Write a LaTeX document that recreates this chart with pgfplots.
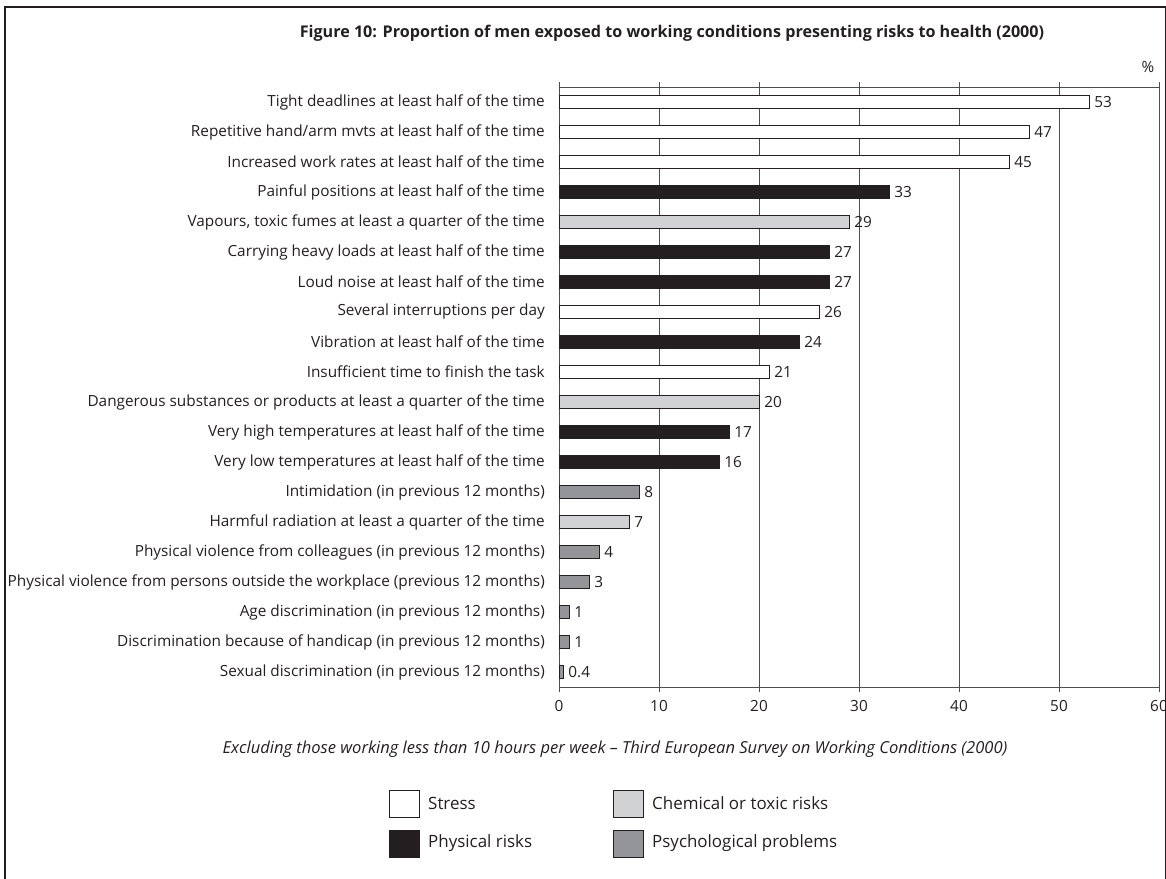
\documentclass[border=0pt]{standalone}
\usepackage{pgfplots}
\pgfplotsset{compat=1.18}
\usepackage{fontspec}
\setmainfont{Open Sans}

\definecolor{inkdark}{HTML}{231F20}
\definecolor{chemgrey}{HTML}{D1D2D4}
\definecolor{psygrey}{HTML}{939598}
\definecolor{gridgrey}{HTML}{4D4D4F}

\newcommand{\lblfont}{\fontsize{15.4}{18}\selectfont}
\newcommand{\keyfont}{\fontsize{17}{20}\selectfont}

\begin{document}
\begin{tikzpicture}
% outer frame of the figure
\draw[line width=1.6bp, inkdark] (5bp,-895bp) -- (5bp,-7bp) -- (1165.5bp,-7bp) -- (1165.5bp,-895bp);

% title and unit
\node[font=\fontsize{16.2}{19}\selectfont\bfseries, text=inkdark] at (672bp,-33bp)
  {Figure 10: Proportion of men exposed to working conditions presenting risks to health (2000)};
\node[font=\lblfont, text=inkdark] at (1148bp,-67bp) {\%};

\begin{axis}[
  at={(559bp,-687bp)}, anchor=south west,
  scale only axis, width=600bp, height=600bp,
  xbar, bar width=13bp, bar shift=0pt,
  every axis plot/.append style={bar shift=0pt, draw=inkdark, line width=0.8bp},
  xmin=0, xmax=60, ymin=0.5, ymax=20.5, y dir=reverse,
  xtick={0,10,...,60},
  xmajorgrids, major grid style={gridgrey, line width=0.9bp},
  axis line style={gridgrey, line width=1bp},
  tick style={gridgrey, line width=0.9bp},
  xtick align=outside, major tick length=5bp,
  x tick label style={font=\lblfont, text=inkdark, /pgf/number format/assume math mode=true, yshift=-5bp},
  ytick={1,...,20},
  y tick style={draw=none},
  extra y ticks={1.5,2.5,...,20.5},
  extra y tick labels={},
  extra y tick style={ytick align=outside, major tick length=4bp, tick style={gridgrey, line width=0.9bp}, grid=none},
  yticklabels={
    Tight deadlines at least half of the time,
    Repetitive hand/arm mvts at least half of the time,
    Increased work rates at least half of the time,
    Painful positions at least half of the time,
    {Vapours, toxic fumes at least a quarter of the time},
    Carrying heavy loads at least half of the time,
    Loud noise at least half of the time,
    Several interruptions per day,
    Vibration at least half of the time,
    Insufficient time to finish the task,
    Dangerous substances or products at least a quarter of the time,
    Very high temperatures at least half of the time,
    Very low temperatures at least half of the time,
    Intimidation (in previous 12 months),
    Harmful radiation at least a quarter of the time,
    Physical violence from colleagues (in previous 12 months),
    Physical violence from persons outside the workplace (previous 12 months),
    Age discrimination (in previous 12 months),
    Discrimination because of handicap (in previous 12 months),
    Sexual discrimination (in previous 12 months)
  },
  y tick label style={font=\lblfont, text=inkdark, inner sep=0pt, xshift=-9bp},
  nodes near coords,
  nodes near coords align={horizontal},
  point meta=explicit symbolic,
  every node near coord/.append style={font=\lblfont, text=inkdark, inner sep=0pt, anchor=west, xshift=5bp},
  clip=false,
]
% Stress
\addplot[fill=white] coordinates {
  (53,1) [53] (47,2) [47] (45,3) [45] (26,8) [26] (21,10) [21]
};
% Chemical or toxic risks
\addplot[fill=chemgrey] coordinates {
  (29,5) [29] (20,11) [20] (7,15) [7]
};
% Physical risks
\addplot[fill=inkdark] coordinates {
  (33,4) [33] (27,6) [27] (27,7) [27] (24,9) [24] (17,12) [17] (16,13) [16]
};
% Psychological problems
\addplot[fill=psygrey] coordinates {
  (8,14) [8] (4,16) [4] (3,17) [3] (1,18) [1] (1,19) [1] (0.4,20) [0.4]
};
\end{axis}

% source note
\node[font=\fontsize{16.6}{19}\selectfont\itshape, text=inkdark] at (615bp,-749bp)
  {Excluding those working less than 10 hours per week -- Third European Survey on Working Conditions (2000)};

% key
\begin{scope}[line width=0.8bp, draw=inkdark]
  \draw[fill=white]     (389bp,-790bp) rectangle (419bp,-817bp);
  \draw[fill=inkdark]   (389bp,-830bp) rectangle (419bp,-857bp);
  \draw[fill=chemgrey]  (613bp,-790bp) rectangle (643bp,-817bp);
  \draw[fill=psygrey]   (613bp,-830bp) rectangle (643bp,-857bp);
\end{scope}
\node[font=\keyfont, text=inkdark, anchor=west, inner sep=0pt] at (428bp,-803.5bp) {Stress};
\node[font=\keyfont, text=inkdark, anchor=west, inner sep=0pt] at (428bp,-843.5bp) {Physical risks};
\node[font=\keyfont, text=inkdark, anchor=west, inner sep=0pt] at (652bp,-803.5bp) {Chemical or toxic risks};
\node[font=\keyfont, text=inkdark, anchor=west, inner sep=0pt] at (652bp,-843.5bp) {Psychological problems};

\pgfresetboundingbox
\useasboundingbox (0,0) rectangle (1166bp,-879bp);
\end{tikzpicture}
\end{document}
